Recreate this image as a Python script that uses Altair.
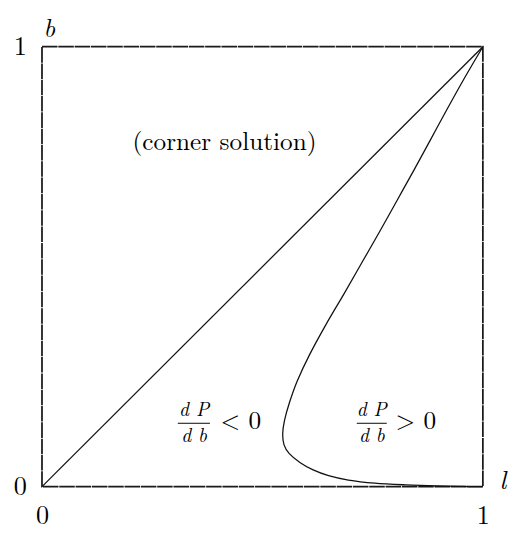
import altair as alt
import pandas as pd

# curve (l, b)
curve_b = [1.000, 0.930, 0.860, 0.790, 0.720, 0.650, 0.580, 0.510, 0.440, 0.370,
           0.300, 0.240, 0.190, 0.150, 0.120, 0.095, 0.075, 0.055, 0.038, 0.025,
           0.015, 0.008, 0.004, 0.0015, 0.0004, 0.000]
curve_l = [1.000, 0.959, 0.920, 0.882, 0.844, 0.805, 0.766, 0.726, 0.686, 0.645,
           0.607, 0.579, 0.561, 0.550, 0.546, 0.549, 0.561, 0.585, 0.615, 0.650,
           0.695, 0.755, 0.825, 0.895, 0.955, 1.000]

diag_l = [0, 1]
diag_b = [0, 1]

# annotations
main_text = ["(corner solution)", "< 0", "> 0"]
main_l = [0.414, 0.451, 0.848]
main_b = [0.784, 0.148, 0.148]

frac_text = ["d P", "d b", "d P", "d b"]
frac_l = [0.345, 0.345, 0.748, 0.748]
frac_b = [0.174, 0.114, 0.174, 0.114]

bar_l1 = [0.308, 0.714]
bar_l2 = [0.381, 0.782]
bar_b = [0.144, 0.144]

FONT = "Latin Modern Roman"

xs = alt.Scale(domain=[0, 1], nice=False, zero=False)
ys = alt.Scale(domain=[0, 1], nice=False, zero=False)

curve_df = pd.DataFrame({"l": curve_l, "b": curve_b, "i": list(range(len(curve_l)))})
diag_df = pd.DataFrame({"l": diag_l, "b": diag_b})
main_df = pd.DataFrame({"l": main_l, "b": main_b, "t": main_text})
frac_df = pd.DataFrame({"l": frac_l, "b": frac_b, "t": frac_text})
bar_df = pd.DataFrame({"l1": bar_l1, "l2": bar_l2, "b": bar_b})

xaxis = alt.Axis(values=[0, 1], format="d", title="l", titleAngle=0,
                 titleX=474, titleY=2, titleAlign="center", titleBaseline="alphabetic",
                 titleFont=FONT, titleFontStyle="italic", titleFontSize=27,
                 titleFontWeight="normal", titleColor="black",
                 domain=False, ticks=False, tickSize=0, grid=False,
                 labelFont=FONT, labelFontSize=27, labelColor="black",
                 labelPadding=17, labelBaseline="top", labelFlush=False)
yaxis = alt.Axis(values=[0, 1], format="d", title="b", titleAngle=0,
                 titleX=7, titleY=-10, titleAlign="center", titleBaseline="alphabetic",
                 titleFont=FONT, titleFontStyle="italic", titleFontSize=26,
                 titleFontWeight="normal", titleColor="black",
                 domain=False, ticks=False, tickSize=0, grid=False,
                 labelFont=FONT, labelFontSize=27, labelColor="black",
                 labelPadding=16, labelFlush=False)

diag = alt.Chart(diag_df).mark_line(color="#111", strokeWidth=1.3).encode(
    x=alt.X("l:Q", scale=xs, axis=xaxis),
    y=alt.Y("b:Q", scale=ys, axis=yaxis),
)

curve = alt.Chart(curve_df).mark_line(color="#111", strokeWidth=1.3, interpolate="cardinal").encode(
    x=alt.X("l:Q", scale=xs),
    y=alt.Y("b:Q", scale=ys),
    order="i:Q",
)

main_txt = alt.Chart(main_df).mark_text(font=FONT, fontSize=26, color="black",
                                         align="center", baseline="middle").encode(
    x=alt.X("l:Q", scale=xs), y=alt.Y("b:Q", scale=ys), text="t:N")

frac_txt = alt.Chart(frac_df).mark_text(font=FONT, fontSize=20, fontStyle="italic",
                                         color="black", align="center", baseline="middle").encode(
    x=alt.X("l:Q", scale=xs), y=alt.Y("b:Q", scale=ys), text="t:N")

bars = alt.Chart(bar_df).mark_rule(color="black", strokeWidth=1).encode(
    x=alt.X("l1:Q", scale=xs), x2="l2:Q", y=alt.Y("b:Q", scale=ys))

chart = alt.layer(diag, curve, main_txt, frac_txt, bars).properties(
    width=454, height=453,
    background="white",
    autosize=alt.AutoSizeParams(type="none"),
    padding={"left": 35, "top": 32, "right": 30, "bottom": 44},
).configure_view(
    stroke="#1a1a1a", strokeWidth=1.8, strokeDash=[16, 0.8]
)

chart.save("out.html", embed_options={"renderer": "svg", "actions": False})
